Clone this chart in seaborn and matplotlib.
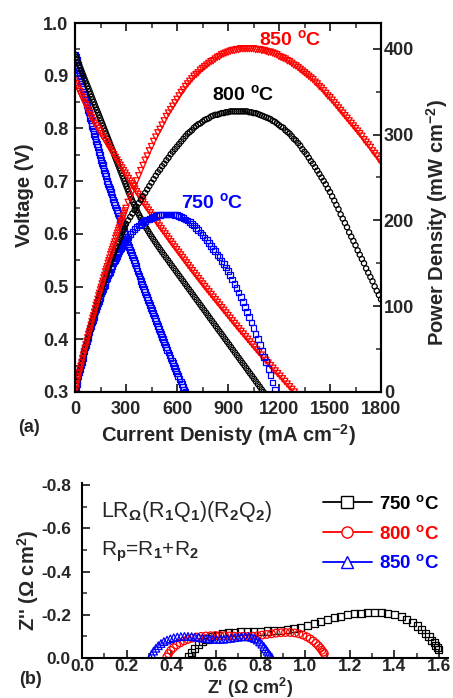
import numpy as np
import matplotlib
matplotlib.use("Agg")
import matplotlib.pyplot as plt
from matplotlib.lines import Line2D
from matplotlib.ticker import MultipleLocator, FormatStrFormatter
import seaborn as sns

# ---------------- (a) I-V-P curves ----------------
# voltage steps of the sweep (V, 5 mV apart) and the current density read at each step (mA cm-2)
v_sweep_750 = np.round(np.linspace(0.94, 0.29, 131), 3)
i_at_v_750 = [3, 6.5, 10, 13, 16, 19.5, 23, 26.5, 30, 33.5,
              37, 40.5, 44, 48, 52, 55.5, 59, 63, 67, 70.5,
              74, 78, 82, 85.5, 89, 93, 97, 101, 105, 109,
              113, 117, 121, 125, 129, 133.5, 138, 142, 146, 150.5,
              155, 159, 163, 167.5, 172, 176.5, 181, 185.5, 190, 195,
              200, 205, 210, 215, 220, 225.5, 231, 236, 241, 246,
              251, 256.5, 262, 267, 272, 277.5, 283, 288, 293, 298.5,
              304, 309, 314, 319.5, 325, 330.5, 336, 341, 346, 351.5,
              357, 362.5, 368, 373.5, 379, 384.5, 390, 395.5, 401, 407,
              413, 418.5, 424, 429.5, 435, 441, 447, 452.5, 458, 464,
              470, 476, 482, 488, 494, 500, 506, 512, 518, 524.5,
              531, 537, 543, 549.5, 556, 562.5, 569, 575.5, 582, 588.5,
              595, 601.5, 608, 615, 622, 629, 636, 643, 650, 657, 664]

v_sweep_800 = np.round(np.linspace(0.94, 0.29, 131), 3)
i_at_v_800 = [0, 6, 12, 18.5, 25, 31, 37, 43, 49, 55,
              61, 67.5, 74, 80, 86, 92, 98, 104, 110, 116,
              122, 128.5, 135, 141, 147, 153, 159, 165, 171, 177,
              183, 189, 195, 201, 207, 213, 219, 225, 231, 237,
              243, 249, 255, 261, 267, 273, 279, 285, 291, 297,
              303, 309, 315, 321.5, 328, 334.5, 341, 348, 355, 362.5,
              370, 378, 386, 394.5, 403, 412, 421, 430.5, 440, 450,
              460, 470.5, 481, 491.5, 502, 513, 524, 535.5, 547, 558,
              569, 580.5, 592, 603, 614, 625.5, 637, 648, 659, 670.5,
              682, 693, 704, 715.5, 727, 738, 749, 760.5, 772, 783,
              794, 805.5, 817, 828, 839, 850.5, 862, 873, 884, 895.5,
              907, 918, 929, 940.5, 952, 963, 974, 985.5, 997, 1008,
              1019, 1030.5, 1042, 1053, 1064, 1075.5, 1087, 1098, 1109, 1120, 1131]

v_sweep_850 = np.round(np.linspace(0.89, 0.29, 121), 3)
i_at_v_850 = [0, 6.5, 13, 20, 27, 34, 41, 48, 55, 62,
              69, 76, 83, 90, 97, 106, 115, 124.5, 134, 143.5,
              153, 162.5, 172, 181.5, 191, 200, 209, 218.5, 228, 237.5,
              247, 256.5, 266, 275.5, 285, 294.5, 304, 313.5, 323, 332.5,
              342, 352, 362, 371.5, 381, 390.5, 400, 410.5, 421, 432,
              443, 453.5, 464, 474.5, 485, 496, 507, 518.5, 530, 541,
              552, 563.5, 575, 586.5, 598, 609.5, 621, 632.5, 644, 655.5,
              667, 679, 691, 703, 715, 727, 739, 751, 763, 775.5,
              788, 800.5, 813, 825.5, 838, 850.5, 863, 875.5, 888, 900.5,
              913, 925.5, 938, 951, 964, 977, 990, 1003, 1016, 1029,
              1042, 1055, 1068, 1081.5, 1095, 1108.5, 1122, 1136, 1150, 1164,
              1178, 1192, 1206, 1220, 1234, 1248, 1262, 1276, 1290, 1304, 1318]

# power density (mW cm-2) on the current grid (5 mA steps below 300, then 12.5 mA)
i_grid = np.concatenate([np.arange(0, 300, 5), np.arange(300, 1801, 12.5)])
i_grid_750 = np.concatenate([np.arange(0, 300, 5), np.arange(300, 1176, 12.5)])

p_750 = [0, 5, 9, 14, 18, 23, 27, 31, 35, 40, 44, 48, 52, 55, 59, 63, 67, 70, 74, 77,
         81, 84, 87, 91, 94, 97, 100, 103, 106, 109, 112, 115, 117, 120, 123, 125, 128,
         131, 133, 136, 138, 140, 143, 145, 147, 150, 152, 154, 156, 158, 160, 162, 164,
         166, 168, 170, 172, 173, 175, 176,
         178, 181, 184, 187, 190, 192, 194, 196, 198, 199,
         201, 202, 203, 204, 205, 206, 206, 207, 207, 207,
         207, 207, 207, 206, 206, 205, 204, 203, 201, 200,
         198, 196, 194, 191, 189, 186, 183, 180, 177, 174,
         170, 167, 164, 160, 157, 153, 149, 145, 141, 136,
         131, 126, 121, 116, 111, 105, 99, 93, 87, 81,
         75, 68, 62, 55, 48, 41, 35, 27, 20, 11,
         2]

p_800 = [0, 4, 9, 13, 17, 22, 26, 30, 34, 38, 42, 46, 50, 54, 58, 62, 66, 70, 73, 77,
         81, 84, 88, 91, 95, 98, 102, 105, 109, 112, 115, 118, 122, 125, 128, 131, 134,
         137, 140, 143, 146, 149, 152, 154, 157, 160, 163, 165, 168, 170, 173, 175, 178,
         180, 182, 185, 187, 189, 192, 194,
         196, 200, 204, 208, 212, 216, 220, 224, 228, 232,
         236, 240, 244, 248, 252, 256, 259, 263, 266, 270,
         273, 277, 280, 283, 286, 289, 292, 295, 298, 301,
         303, 305, 308, 310, 312, 313, 315, 317, 318, 319,
         321, 322, 323, 323, 324, 325, 325, 326, 326, 327,
         327, 327, 327, 327, 327, 327, 327, 327, 326, 326,
         325, 325, 324, 323, 322, 321, 320, 319, 318, 316,
         315, 313, 311, 309, 308, 305, 303, 301, 298, 295,
         293, 290, 287, 283, 280, 277, 273, 269, 266, 262,
         258, 254, 250, 246, 242, 237, 233, 228, 223, 218,
         213, 207, 202, 197, 192, 186, 181, 176, 171, 165,
         160, 155, 150, 144, 139, 134, 129, 123, 118, 113,
         108]

p_850 = [0, 4, 9, 13, 18, 22, 26, 30, 34, 39, 43, 47, 51, 55, 59, 63, 67, 70, 74, 78,
         82, 86, 89, 93, 97, 101, 104, 108, 112, 115, 119, 122, 126, 129, 133, 136, 140,
         143, 146, 150, 153, 156, 160, 163, 166, 169, 172, 175, 179, 182, 185, 188, 191,
         194, 197, 199, 202, 205, 208, 211,
         214, 221, 227, 234, 240, 246, 252, 258, 264, 270,
         275, 281, 286, 292, 297, 302, 306, 311, 316, 321,
         325, 329, 333, 337, 341, 345, 349, 352, 356, 359,
         362, 365, 368, 370, 372, 375, 377, 379, 381, 383,
         385, 386, 388, 390, 391, 393, 394, 395, 396, 397,
         398, 398, 399, 399, 400, 400, 400, 400, 400, 400,
         400, 399, 399, 399, 398, 398, 397, 396, 396, 395,
         394, 393, 391, 390, 389, 388, 386, 385, 383, 381,
         380, 378, 376, 374, 372, 370, 368, 366, 364, 361,
         359, 356, 354, 351, 348, 345, 343, 340, 337, 334,
         331, 328, 325, 322, 319, 316, 313, 310, 307, 304,
         301, 298, 294, 291, 288, 285, 281, 278, 275, 271,
         268]

# ---------------- (b) impedance spectra (ohm cm2) ----------------
zre_750 = [0.477, 0.490, 0.505, 0.522, 0.540, 0.560, 0.582, 0.605, 0.630, 0.656, 0.683,
           0.711, 0.740, 0.770, 0.800, 0.830, 0.860, 0.890, 0.920, 0.950, 0.980, 1.010,
           1.040, 1.070, 1.100, 1.130, 1.160, 1.190, 1.220, 1.250, 1.280, 1.310, 1.340,
           1.370, 1.400, 1.430, 1.455, 1.480, 1.502, 1.522, 1.540, 1.555, 1.568, 1.578,
           1.586, 1.592, 1.597]
zim_750 = [-0.005, -0.025, -0.045, -0.062, -0.076, -0.088, -0.098, -0.106, -0.112, -0.116,
           -0.119, -0.121, -0.122, -0.123, -0.124, -0.125, -0.126, -0.128, -0.131, -0.136,
           -0.143, -0.151, -0.160, -0.169, -0.178, -0.187, -0.194, -0.200, -0.205, -0.208,
           -0.210, -0.211, -0.211, -0.208, -0.202, -0.192, -0.180, -0.165, -0.148, -0.131,
           -0.114, -0.098, -0.083, -0.070, -0.058, -0.048, -0.040]

zre_800 = [0.380, 0.388, 0.398, 0.410, 0.424, 0.440, 0.457, 0.475, 0.494, 0.514, 0.534,
           0.555, 0.576, 0.597, 0.618, 0.639, 0.660, 0.681, 0.702, 0.723, 0.744, 0.765,
           0.786, 0.807, 0.828, 0.849, 0.870, 0.891, 0.912, 0.933, 0.953, 0.972, 0.990,
           1.007, 1.022, 1.036, 1.048, 1.059, 1.068, 1.075, 1.081, 1.086]
zim_800 = [-0.005, -0.020, -0.035, -0.048, -0.060, -0.070, -0.079, -0.086, -0.092, -0.097,
           -0.100, -0.102, -0.103, -0.104, -0.104, -0.103, -0.102, -0.101, -0.100, -0.100,
           -0.100, -0.101, -0.103, -0.106, -0.109, -0.112, -0.115, -0.117, -0.118, -0.118,
           -0.116, -0.112, -0.106, -0.098, -0.089, -0.079, -0.068, -0.057, -0.046, -0.036,
           -0.027, -0.020]

zre_850 = [0.305, 0.312, 0.321, 0.331, 0.342, 0.354, 0.367, 0.381, 0.396, 0.411, 0.427,
           0.443, 0.459, 0.475, 0.491, 0.507, 0.523, 0.539, 0.555, 0.571, 0.587, 0.603,
           0.619, 0.635, 0.651, 0.667, 0.683, 0.699, 0.715, 0.731, 0.746, 0.760, 0.773,
           0.785, 0.796, 0.806, 0.815, 0.823, 0.830, 0.836, 0.843, 0.850]
zim_850 = [-0.003, -0.018, -0.032, -0.045, -0.057, -0.067, -0.076, -0.083, -0.089, -0.094,
           -0.097, -0.099, -0.100, -0.100, -0.099, -0.097, -0.095, -0.092, -0.090, -0.088,
           -0.087, -0.086, -0.086, -0.087, -0.089, -0.091, -0.094, -0.096, -0.098, -0.099,
           -0.098, -0.095, -0.090, -0.083, -0.074, -0.064, -0.053, -0.042, -0.031, -0.021,
           -0.012, -0.004]

temp_labels = ["750", "800", "850"]

# ---------------- styling ----------------
sns.set_theme(style="ticks")
plt.rcParams.update({
    "font.family": ["Liberation Sans", "DejaVu Sans"],
    "font.weight": "bold",
    "axes.unicode_minus": False,
    "mathtext.fontset": "custom",
    "mathtext.rm": "Liberation Sans",
    "mathtext.bf": "Liberation Sans:bold",
    "mathtext.it": "Liberation Sans:italic",
    "axes.linewidth": 1.5,
    "axes.edgecolor": "black",
})

W, H = 453, 698
fig = plt.figure(figsize=(W / 100, H / 100), dpi=100)


def fx(x):
    return x / W


def fy(y):
    return 1 - y / H


def dots(ax, x, y, color, marker, s, lw=0.9):
    sns.scatterplot(x=x, y=y, ax=ax, marker=marker, s=s, facecolor="none",
                    edgecolor=color, linewidth=lw, legend=False)


def deg(t):
    return t + r" $^{\mathbf{o}}$C"


# ---------------- panel (a) ----------------
ax = fig.add_axes([fx(75), fy(392), (381 - 75) / W, (392 - 23) / H])
ax2 = ax.twinx()

dots(ax, i_at_v_750, v_sweep_750, "#0000FF", "s", 17)
dots(ax, i_at_v_800, v_sweep_800, "black", "o", 14)
dots(ax, i_at_v_850, v_sweep_850, "#FF0000", "v", 20)

dots(ax2, i_grid_750, p_750, "#0000FF", "s", 17)
dots(ax2, i_grid, p_800, "black", "o", 14)
dots(ax2, i_grid, p_850, "#FF0000", "v", 20)

ax.set_xlim(0, 1800)
ax.set_ylim(0.3, 1.0)
ax2.set_ylim(0, 430)
ax.set_xticks(np.arange(0, 1801, 300))
ax.xaxis.set_minor_locator(MultipleLocator(150))
ax.set_yticks(np.arange(0.3, 1.01, 0.1))
ax.yaxis.set_major_formatter(FormatStrFormatter("%.1f"))
ax.yaxis.set_minor_locator(MultipleLocator(0.05))
ax2.set_yticks([0, 100, 200, 300, 400])
ax2.yaxis.set_minor_locator(MultipleLocator(50))
for a in (ax, ax2):
    a.set_xlabel("")
    a.set_ylabel("")
    for sp in a.spines.values():
        sp.set_linewidth(1.5)
ax.tick_params(axis="x", which="both", direction="in", top=True, labelsize=13, pad=6.5)
ax.tick_params(axis="y", which="both", direction="in", right=False, labelsize=13, pad=5)
ax.tick_params(which="major", length=6, width=1.3)
ax.tick_params(which="minor", length=3.5, width=1.1)
ax2.tick_params(axis="y", which="both", direction="in", labelsize=13, pad=2)
ax2.tick_params(which="major", length=6, width=1.3)
ax2.tick_params(which="minor", length=3.5, width=1.1)

fig.text(fx(25), fy(195), "Voltage (V)", rotation=90, ha="center", va="center", fontsize=14.5)
fig.text(fx(437), fy(222), r"Power Density (mW cm$^{\mathbf{-2}}$)", rotation=90,
         ha="center", va="center", fontsize=14.5)
fig.text(fx(228), fy(435), r"Current Denisty (mA cm$^{\mathbf{-2}}$)", ha="center",
         va="center", fontsize=14.5)
fig.text(fx(29), fy(427), "(a)", ha="center", va="center", fontsize=13)

fig.text(fx(290), fy(39), deg("850"), color="#FF0000", ha="center", va="center", fontsize=14)
fig.text(fx(243), fy(94), deg("800"), color="black", ha="center", va="center", fontsize=14)
fig.text(fx(212), fy(202), deg("750"), color="#0000FF", ha="center", va="center", fontsize=14)

# ---------------- panel (b) ----------------
bx = fig.add_axes([fx(82), fy(658), (448 - 82) / W, (658 - 483) / H])
dots(bx, zre_750, zim_750, "black", "s", 26, 0.9)
dots(bx, zre_800, zim_800, "#FF0000", "o", 30, 0.9)
dots(bx, zre_850, zim_850, "#0000FF", "^", 30, 0.9)

bx.set_xlim(0, 1.64)
bx.set_ylim(0, -0.81)
bx.set_xticks(np.arange(0, 1.61, 0.2))
bx.xaxis.set_minor_locator(MultipleLocator(0.1))
bx.set_yticks([-0.8, -0.6, -0.4, -0.2, 0.0])
bx.yaxis.set_minor_locator(MultipleLocator(0.1))
bx.xaxis.set_major_formatter(FormatStrFormatter("%.1f"))
bx.yaxis.set_major_formatter(FormatStrFormatter("%.1f"))
bx.set_xlabel("")
bx.set_ylabel("")
bx.spines["top"].set_visible(False)
bx.spines["right"].set_visible(False)
for sp in ("left", "bottom"):
    bx.spines[sp].set_linewidth(1.5)
bx.tick_params(which="both", direction="in", labelsize=12.5)
bx.tick_params(axis="x", which="both", pad=1)
bx.tick_params(axis="y", which="both", pad=8)
bx.tick_params(which="major", length=6, width=1.3)
bx.tick_params(which="minor", length=3.5, width=1.1)

fig.text(fx(28), fy(580), r"Z'' ($\Omega$ cm$^{\mathbf{2}}$)", rotation=90, ha="center",
         va="center", fontsize=14.5)
fig.text(fx(250), fy(687.5), r"Z' ($\Omega$ cm$^{\mathbf{2}}$)", ha="center", va="center",
         fontsize=13)
fig.text(fx(30), fy(680), "(b)", ha="center", va="center", fontsize=13)

fig.text(fx(101), fy(512), r"LR$_{\Omega}$(R$_1$Q$_1$)(R$_2$Q$_2$)", ha="left", va="center",
         fontsize=15.5, fontweight="normal")
fig.text(fx(101), fy(552), r"R$_\mathrm{p}$=R$_1$+R$_2$", ha="left", va="center",
         fontsize=15, fontweight="normal")

leg_colors = ["black", "#FF0000", "#0000FF"]
leg_markers = ["s", "o", "^"]
handles = [Line2D([], [], color=c, marker=m, markerfacecolor="white", markeredgecolor=c,
                  markersize=8, markeredgewidth=1.0, lw=1.3)
           for c, m in zip(leg_colors, leg_markers)]
leg = bx.legend(handles, [deg(t) for t in temp_labels], loc="upper left",
                bbox_to_anchor=(fx(323), fy(495)), bbox_transform=fig.transFigure,
                frameon=False, fontsize=13.5, handlelength=2.6, handletextpad=0.4,
                labelspacing=0.62, borderpad=0, borderaxespad=0)
for txt, c in zip(leg.get_texts(), leg_colors):
    txt.set_color(c)

fig.savefig("out.png", dpi=100)
